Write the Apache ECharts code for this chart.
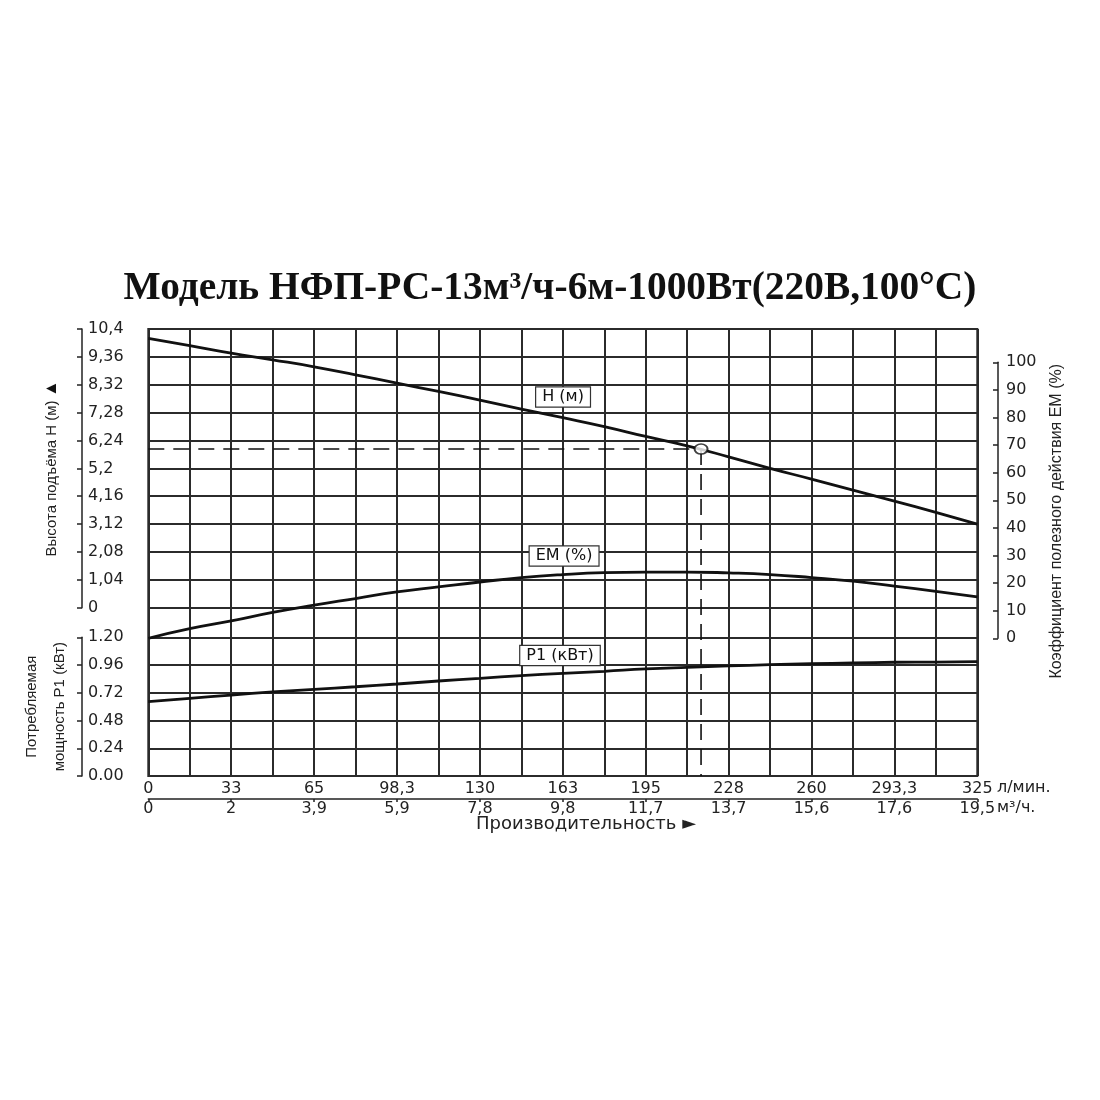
<!DOCTYPE html>
<html>
<head>
<meta charset="utf-8">
<script src="https://cdn.jsdelivr.net/npm/echarts@6.0.0/dist/echarts.min.js"></script>
<style>
html,body{margin:0;padding:0;background:#fff;}
#chart{width:1100px;height:1100px;}
</style>
</head>
<body>
<div id="chart"></div>
<script>
// ---------- data ----------
const flow = [0,16.25,32.5,48.75,65,81.25,97.5,113.75,130,146.25,162.5,178.75,195,211.25,227.5,243.75,260,276.25,292.5,308.75,325];
const headH = [10.05,9.78,9.50,9.25,8.99,8.69,8.38,8.07,7.75,7.41,7.09,6.76,6.39,6.04,5.63,5.20,4.80,4.39,3.98,3.56,3.12];
const effEM = [0,3.5,6.3,9.4,12.0,14.4,16.8,18.6,20.4,22.0,23.1,23.8,24.0,24.0,23.7,23.1,22.0,20.7,18.9,17.0,15.0];
const powerP1 = [0.643,0.672,0.700,0.727,0.750,0.772,0.796,0.822,0.845,0.868,0.888,0.906,0.926,0.940,0.952,0.963,0.971,0.978,0.984,0.986,0.989];
const flowLabelsLmin = ['0','33','65','98,3','130','163','195','228','260','293,3','325'];
const flowLabelsM3h = ['0','2','3,9','5,9','7,8','9,8','11,7','13,7','15,6','17,6','19,5'];
const headTickLabels = ['0','1,04','2,08','3,12','4,16','5,2','6,24','7,28','8,32','9,36','10,4'];
const powerTickLabels = ['0.00','0.24','0.48','0.72','0.96','1.20'];
const opFlow = 216.7;
const opHead = 5.92;

// ---------- layout ----------
const FRAME_L = 148.3, FRAME_R = 977.3, FRAME_T = 329, FRAME_B = 776;
const H_BOTTOM = 607.7, EM_TOP = 362.3, EM_BOTTOM = 638.3, P1_TOP = 637.3;
const W = 1100, Hh = 1100;
const hPerPx = 10.4 / (H_BOTTOM - FRAME_T);
const hExtMin = 10.4 - (FRAME_B - FRAME_T) * hPerPx;

const TICK_FONT = "'DejaVu Sans', sans-serif";
const NAME_FONT = "'Liberation Sans', Arial, sans-serif";
const gridColor = '#2b2b2b';
const ink = '#111';

const tickLabel = {fontFamily: TICK_FONT, fontSize: 16, color: '#222'};
const boxLabel = (txt) => ({
  show: true, position: 'inside', formatter: txt,
  fontFamily: TICK_FONT, fontSize: 16, color: ink,
  backgroundColor: '#fff', borderColor: '#333', borderWidth: 1.2,
  padding: [2, 6, 1, 6]
});

const chart = echarts.init(document.getElementById('chart'), null, {renderer: 'canvas'});
const option = {
  animation: false,
  backgroundColor: '#fff',
  title: {
    text: 'Модель НФП-РС-13м³/ч-6м-1000Вт(220В,100°С)',
    left: 545, top: 264, textAlign: 'center',
    textStyle: {fontFamily: "'Liberation Serif', 'Times New Roman', serif", fontWeight: 'bold', fontSize: 39.4, color: ink}
  },
  grid: [
    {left: FRAME_L, right: W - FRAME_R, top: FRAME_T, bottom: Hh - FRAME_B, show: true, borderColor: gridColor, borderWidth: 2},
    {left: FRAME_L, right: W - FRAME_R, top: FRAME_T, bottom: Hh - H_BOTTOM},
    {left: FRAME_L, right: W - FRAME_R, top: EM_TOP, bottom: Hh - EM_BOTTOM},
    {left: FRAME_L, right: W - FRAME_R, top: P1_TOP, bottom: Hh - FRAME_B}
  ],
  xAxis: [
    {gridIndex: 0, type: 'value', min: 0, max: 325, interval: 16.25,
     axisLine: {show: false}, axisTick: {show: false},
     splitLine: {show: true, lineStyle: {color: gridColor, width: 2}},
     axisLabel: Object.assign({margin: 5, formatter: v => {const i = Math.round(v / 16.25); return i % 2 ? '' : flowLabelsLmin[i / 2];}}, tickLabel)},
    {gridIndex: 0, type: 'value', position: 'bottom', offset: 23, min: 0, max: 325, interval: 32.5,
     axisLine: {show: true, onZero: false, lineStyle: {color: '#222', width: 1.5}},
     axisTick: {show: true, length: 3, lineStyle: {color: '#222', width: 1.5}},
     splitLine: {show: false},
     axisLabel: Object.assign({margin: 2, formatter: v => flowLabelsM3h[Math.round(v / 32.5)]}, tickLabel)},
    {gridIndex: 1, type: 'value', min: 0, max: 325, show: false},
    {gridIndex: 2, type: 'value', min: 0, max: 325, show: false},
    {gridIndex: 3, type: 'value', min: 0, max: 325, show: false}
  ],
  yAxis: [
    {gridIndex: 0, type: 'value', min: hExtMin, max: 10.4, show: false},
    {gridIndex: 1, type: 'value', position: 'left', offset: FRAME_L - 82, min: 0, max: 10.4, interval: 1.04,
     axisLine: {show: true, onZero: false, lineStyle: {color: '#222', width: 1.5}},
     axisTick: {show: true, inside: false, length: 5, lineStyle: {color: '#222', width: 1.5}},
     axisLabel: Object.assign({inside: true, margin: 6, formatter: v => headTickLabels[Math.round(v / 1.04)]}, tickLabel),
     splitLine: {show: true, lineStyle: {color: gridColor, width: 2}},
     name: '{a|Высота подъёма H (м)} {b|▲}', nameLocation: 'middle', nameGap: 22, nameRotate: 90,
     nameTextStyle: {rich: {a: {fontFamily: NAME_FONT, fontSize: 15, color: '#222'}, b: {fontSize: 17, color: ink}}}},
    {gridIndex: 2, type: 'value', position: 'right', offset: 998 - FRAME_R, min: 0, max: 100, interval: 10,
     axisLine: {show: true, onZero: false, lineStyle: {color: '#222', width: 1.5}},
     axisTick: {show: true, inside: true, length: 5, lineStyle: {color: '#222', width: 1.5}},
     axisLabel: Object.assign({margin: 8}, tickLabel),
     splitLine: {show: false},
     name: 'Коэффициент полезного действия EM (%)', nameLocation: 'middle', nameGap: 51, nameRotate: 90,
     nameTextStyle: {fontFamily: NAME_FONT, fontSize: 16, color: '#222', padding: [0, 42, 0, 0]}},
    {gridIndex: 3, type: 'value', position: 'left', offset: FRAME_L - 82, min: 0, max: 1.2, interval: 0.24,
     axisLine: {show: true, onZero: false, lineStyle: {color: '#222', width: 1.5}},
     axisTick: {show: true, inside: false, length: 5, lineStyle: {color: '#222', width: 1.5}},
     axisLabel: Object.assign({inside: true, margin: 6, formatter: v => powerTickLabels[Math.round(v / 0.24)]}, tickLabel),
     splitLine: {show: true, lineStyle: {color: gridColor, width: 2}},
     name: 'Потребляемая\nмощность P1 (кВт)', nameLocation: 'middle', nameGap: 6, nameRotate: 90,
     nameTextStyle: {fontFamily: NAME_FONT, fontSize: 15, color: '#222', lineHeight: 28}}
  ],
  series: [
    {name: 'H', type: 'line', xAxisIndex: 2, yAxisIndex: 1, smooth: true, showSymbol: false, z: 3,
     data: flow.map((f, i) => [f, headH[i]]),
     lineStyle: {color: ink, width: 2.8},
     markPoint: {symbol: 'rect', symbolSize: 0, data: [{coord: [162.6, 7.86]}], label: boxLabel('H (м)')}},
    {name: 'EM', type: 'line', xAxisIndex: 3, yAxisIndex: 2, smooth: true, showSymbol: false, z: 3,
     data: flow.map((f, i) => [f, effEM[i]]),
     lineStyle: {color: ink, width: 2.8},
     markPoint: {symbol: 'rect', symbolSize: 0, data: [{coord: [163, 29.8]}], label: boxLabel('EM (%)')}},
    {name: 'P1', type: 'line', xAxisIndex: 4, yAxisIndex: 3, smooth: true, showSymbol: false, z: 3,
     data: flow.map((f, i) => [f, powerP1[i]]),
     lineStyle: {color: ink, width: 2.8},
     markPoint: {symbol: 'rect', symbolSize: 0, data: [{coord: [161.4, 1.043]}], label: boxLabel('P1 (кВт)')}},
    {name: 'opH', type: 'line', xAxisIndex: 0, yAxisIndex: 0, showSymbol: false, z: 4,
     data: [[0, opHead], [opFlow, opHead]],
     lineStyle: {color: ink, width: 1.6, type: [16, 9]}},
    {name: 'opV', type: 'line', xAxisIndex: 0, yAxisIndex: 0, showSymbol: false, z: 4,
     data: [[opFlow, opHead], [opFlow, hExtMin]],
     lineStyle: {color: ink, width: 1.6, type: [16, 9]}},
    {name: 'op', type: 'scatter', xAxisIndex: 0, yAxisIndex: 0, z: 6,
     data: [[opFlow, opHead]], symbol: 'circle', symbolSize: [13, 10],
     itemStyle: {color: '#fff', borderColor: ink, borderWidth: 1.8}}
  ],
  graphic: [
    {type: 'text', left: 997, top: 780, style: {text: 'л/мин.', font: "16px 'DejaVu Sans', sans-serif", fill: '#222'}},
    {type: 'text', left: 997, top: 800, style: {text: 'м³/ч.', font: "16px 'DejaVu Sans', sans-serif", fill: '#222'}},
    {type: 'text', left: 476, top: 815, style: {text: 'Производительность ►', font: "18px 'DejaVu Sans', sans-serif", fill: '#222'}}
  ]
};
chart.setOption(option);
</script>
</body>
</html>
